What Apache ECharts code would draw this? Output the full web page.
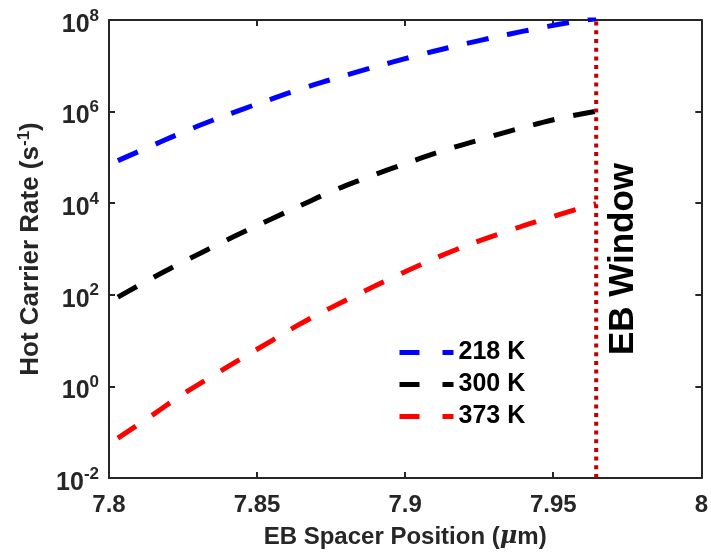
<!DOCTYPE html>
<html>
<head>
<meta charset="utf-8">
<script src="https://cdn.jsdelivr.net/npm/echarts@6/dist/echarts.min.js"></script>
<style>html,body{margin:0;padding:0;background:#fff}#c{width:711px;height:556px}</style>
</head>
<body>
<div id="c"></div>
<script>
// ---- data ----
var xPos = [7.803, 7.815, 7.825, 7.835, 7.845, 7.855, 7.865, 7.875, 7.885, 7.895, 7.905, 7.915, 7.925, 7.935, 7.945, 7.955, 7.9645];
var rate218 = [8.5e4, 1.86e5, 3.55e5, 6.46e5, 1.12e6, 1.9e6, 3.16e6, 5.0e6, 7.76e6, 1.17e7, 1.74e7, 2.51e7, 3.55e7, 4.9e7, 6.6e7, 8.7e7, 1.07e8];
var rate300 = [89, 240, 525, 1100, 2290, 4570, 9120, 1.78e4, 3.24e4, 5.6e4, 9.5e4, 1.55e5, 2.4e5, 3.7e5, 5.5e5, 7.8e5, 1.02e6];
var rate373 = [0.074, 0.245, 0.68, 1.7, 4.17, 10, 24, 52.5, 110, 224, 447, 850, 1510, 2510, 4070, 6460, 9770];
var seriesNames = ['218 K', '300 K', '373 K'];
var ebWindowX = 7.9645;
var xTicks = [7.8, 7.85, 7.9, 7.95, 8];
var yRange = [1e-2, 1e8];

function pairs(xs, ys) { return xs.map(function (x, i) { return [x, ys[i]]; }); }

var chart = echarts.init(document.getElementById('c'));
var axisColor = '#262626';
var font = '"Liberation Sans", Arial, Helvetica, sans-serif';
var dash = [22, 19];
var colors = ['#0000ff', '#000000', '#ff0000'];

var option = {
  animation: false,
  textStyle: { fontFamily: font },
  grid: { left: 109, right: 8, top: 20, bottom: 78 },
  legend: {
    show: true,
    data: seriesNames,
    orient: 'vertical',
    left: 397, top: 340, padding: 0,
    itemWidth: 54, itemHeight: 12, itemGap: 7,
    itemStyle: { opacity: 0 },
    lineStyle: { width: 5, type: [20, 23], cap: 'butt' },
    textStyle: { fontFamily: font, fontSize: 25, fontWeight: 'bold', color: '#000' }
  },
  xAxis: [{
    type: 'value', min: xTicks[0], max: xTicks[xTicks.length - 1], interval: 0.05,
    name: 'EB Spacer Position ({mu|μ}m)', nameLocation: 'middle', nameGap: 47,
    nameTextStyle: { fontFamily: font, fontSize: 24, fontWeight: 'bold', color: axisColor,
      rich: { mu: { fontFamily: '"DejaVu Serif", serif', fontStyle: 'italic', fontSize: 24, color: axisColor } } },
    axisLine: { lineStyle: { color: axisColor, width: 2 } },
    axisTick: { inside: true, length: 6, lineStyle: { color: axisColor, width: 2 } },
    axisLabel: { fontFamily: font, fontSize: 24, fontWeight: 'bold', color: axisColor, margin: 15,
      formatter: function (v) { return String(parseFloat(v.toFixed(2))); } },
    splitLine: { show: false }
  }, {
    type: 'value', position: 'top', min: xTicks[0], max: xTicks[xTicks.length - 1], interval: 0.05,
    axisLine: { show: true, lineStyle: { color: axisColor, width: 2 } },
    axisTick: { inside: true, length: 6, lineStyle: { color: axisColor, width: 2 } },
    axisLabel: { show: false }, splitLine: { show: false }
  }],
  yAxis: [{
    type: 'log', logBase: 10, min: yRange[0], max: yRange[1], interval: 2,
    name: 'Hot Carrier Rate (s{sup|-1})', nameLocation: 'middle', nameGap: 64,
    nameTextStyle: { fontFamily: font, fontSize: 26, fontWeight: 'bold', color: axisColor,
      rich: { sup: { fontFamily: font, fontSize: 17, fontWeight: 'bold', color: axisColor, padding: [0, 0, 12, 0] } } },
    axisLine: { show: true, lineStyle: { color: axisColor, width: 2 } },
    axisTick: { inside: true, length: 6, lineStyle: { color: axisColor, width: 2 } },
    minorTick: { show: false },
    axisLabel: {
      margin: 10, color: axisColor,
      formatter: function (v) { var e = Math.round(Math.log10(v)); return '{b|10}{s|' + e + '}'; },
      rich: {
        b: { fontFamily: font, fontSize: 25, fontWeight: 'bold', color: axisColor, padding: [10, 0, 0, 0] },
        s: { fontFamily: font, fontSize: 17, fontWeight: 'bold', color: axisColor, padding: [0, 0, 8, 0] }
      }
    },
    splitLine: { show: false }
  }, {
    type: 'log', logBase: 10, min: yRange[0], max: yRange[1], interval: 2, position: 'right',
    axisLine: { show: true, lineStyle: { color: axisColor, width: 2 } },
    axisTick: { inside: true, length: 6, lineStyle: { color: axisColor, width: 2 } },
    minorTick: { show: false },
    axisLabel: { show: false }, splitLine: { show: false }
  }],
  series: [
    { name: seriesNames[0], type: 'line', data: pairs(xPos, rate218), showSymbol: false, symbol: 'none', smooth: true,
      lineStyle: { color: colors[0], width: 5, type: dash, cap: 'butt' }, itemStyle: { color: colors[0] } },
    { name: seriesNames[1], type: 'line', data: pairs(xPos, rate300), showSymbol: false, symbol: 'none', smooth: true,
      lineStyle: { color: colors[1], width: 5, type: dash, cap: 'butt' }, itemStyle: { color: colors[1] } },
    { name: seriesNames[2], type: 'line', data: pairs(xPos, rate373), showSymbol: false, symbol: 'none', smooth: true,
      lineStyle: { color: colors[2], width: 5, type: dash, cap: 'butt' }, itemStyle: { color: colors[2] } },
    { name: 'EB', type: 'line', data: [[ebWindowX, yRange[0]], [ebWindowX, yRange[1]]], showSymbol: false, symbol: 'none',
      lineStyle: { color: '#c00000', width: 4, type: [4, 4.7] }, silent: true, z: 5 }
  ],
  graphic: [{
    type: 'text', x: 623, y: 259, rotation: Math.PI / 2,
    style: { text: 'EB Window', fontFamily: font, fontSize: 35, fontWeight: 'bold', fill: '#000', align: 'center', verticalAlign: 'middle' }
  }]
};
chart.setOption(option);
</script>
</body>
</html>
